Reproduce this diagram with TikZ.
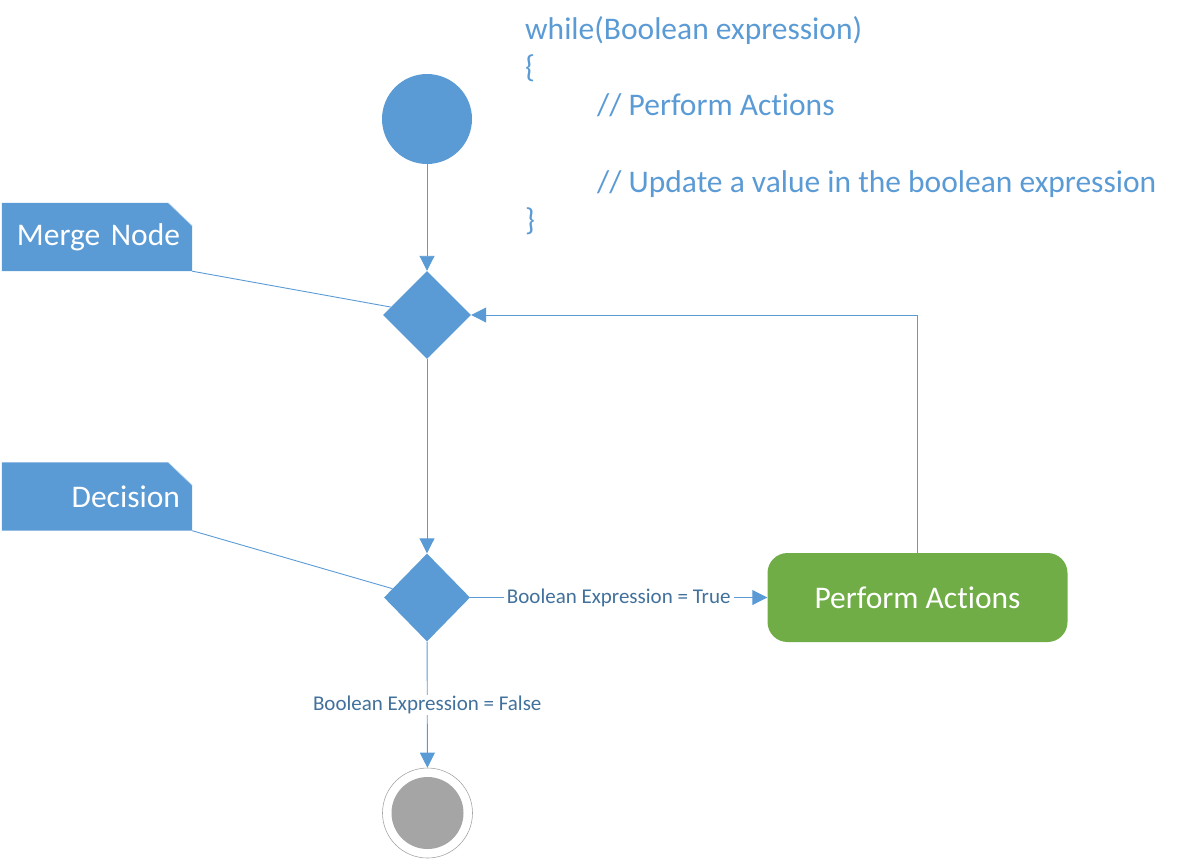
\documentclass[tikz,border=0pt]{standalone}
\usepackage{fontspec}
\setmainfont{Carlito}[Ligatures=CommonOff]
\usetikzlibrary{shapes.geometric,arrows.meta,backgrounds,calc}
\definecolor{ublue}{HTML}{5B9BD5}
\definecolor{lblue}{HTML}{41719C}
\definecolor{ugreen}{HTML}{70AD47}
\definecolor{ugray}{HTML}{A5A5A5}
\definecolor{foldc}{HTML}{BDD7EE}
\begin{document}
\begin{tikzpicture}[x=1pt,y=-1pt,
  conn/.style={draw=ublue,line width=0.9pt},
  arrowconn/.style={conn,-{Triangle[length=15pt,width=15pt]},shorten >=0pt},
  bigtext/.style={font=\fontsize{31.5pt}{38pt}\selectfont},
  codeline/.style={bigtext,text=ublue,anchor=base west,inner sep=0pt},
  lbl/.style={font=\fontsize{21pt}{25pt}\selectfont,text=lblue,fill=white,inner xsep=3pt,inner ysep=1pt},
  notebox/.style={bigtext,text=white,minimum width=190pt,minimum height=68pt,text width=166pt,align=right,inner xsep=12pt,inner ysep=0pt},
  decisionbox/.style={diamond,fill=ublue,inner sep=0pt},
]
\useasboundingbox (0,0) rectangle (1182,860);

% code text
\node[codeline] (c1) at (525,39) {while(Boolean expression)};
\node[codeline] (c2) at (525,77.3) {\{};
\node[codeline] (c3) at (597,115.6) {// Perform Actions};
\node[codeline] (c4) at (597,192.2) {// Update a value in the boolean expression};
\node[codeline] (c5) at (525,230.5) {\}};

% nodes
\node[circle,fill=ublue,minimum size=90pt,inner sep=0pt] (start) at (427,119) {};
\node[decisionbox,minimum width=88pt,minimum height=88pt] (merge) at (427,315) {};
\node[decisionbox,minimum width=86pt,minimum height=88pt] (decision) at (427,597.5) {};
\node[rectangle,rounded corners=20pt,fill=ugreen,text=white,bigtext,minimum width=300pt,minimum height=89pt] (pa) at (917.5,597.5) {Perform Actions};
\node[circle,draw=ugray,line width=0.6pt,minimum size=90pt,inner sep=0pt] (final) at (427.5,813) {};
\node[circle,fill=ugray,minimum size=72pt,inner sep=0pt] (finalcore) at (final.center) {};

% notes
\node[notebox] (mn) at (97,237) {Merge Node};
\node[notebox] (dn) at (97,496.5) {Decision};
\begin{scope}[on background layer]
  \foreach \n in {mn,dn}{
    \fill[ublue] (\n.north west) -- ([xshift=-24pt]\n.north east) -- ([yshift=-23pt]\n.north east) -- (\n.south east) -- (\n.south west) -- cycle;
    \draw[foldc,line width=0.6pt] ([xshift=-24pt]\n.north east) -- ([yshift=-23pt]\n.north east);
  }
\end{scope}

% connectors
\draw[arrowconn] (start) -- (merge);
\draw[conn] (mn.south east) -- ($(merge.west)!0.18!(merge.north)$);
\draw[arrowconn] (merge) -- (decision);
\draw[conn] (dn.south east) -- ($(decision.west)!0.2!(decision.north)$);
\draw[arrowconn] (decision) -- node[lbl] {Boolean Expression = True} (pa);
\draw[arrowconn] (decision) -- node[lbl] {Boolean Expression = False} (final);
\draw[arrowconn] (pa.north) |- (merge.east);
\end{tikzpicture}
\end{document}
